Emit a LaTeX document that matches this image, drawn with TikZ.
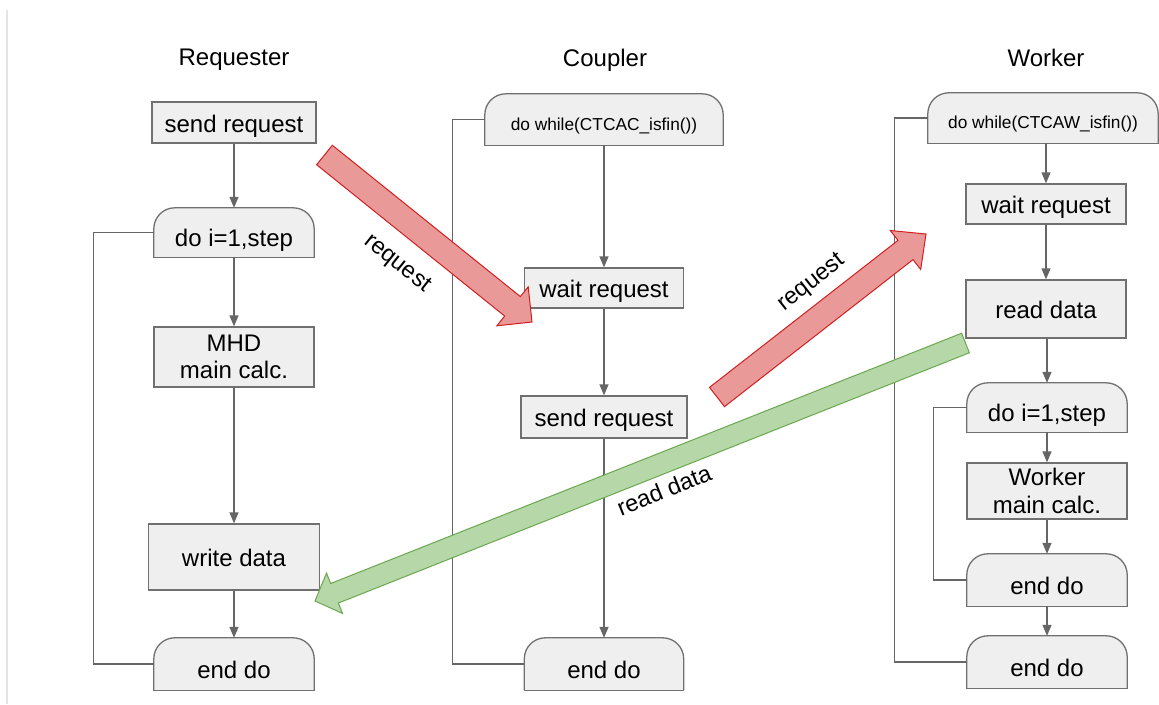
\documentclass[tikz,border=0pt]{standalone}
\usepackage{fontspec}
\setmainfont{Liberation Sans}
\usetikzlibrary{arrows.meta,calc,backgrounds}

\definecolor{boxfill}{HTML}{EFEFEF}
\definecolor{boxline}{HTML}{707070}
\definecolor{flowline}{HTML}{666666}
\definecolor{reqfill}{HTML}{EA9999}
\definecolor{reqline}{HTML}{D01F1F}
\definecolor{datafill}{HTML}{B6D7A8}
\definecolor{dataline}{HTML}{6AA84F}
\definecolor{frameline}{HTML}{E4E4E4}

\tikzset{
  every node/.style={font=\fontsize{24}{27.5}\selectfont, text=black},
  sz/.style 2 args={minimum width=#1pt, minimum height=#2pt},
  procbox/.style={draw=boxline, fill=boxfill, line width=1.3pt, inner sep=0pt, align=center},
  oneline/.style={text height=24pt, text depth=5pt},
  loopbox/.style={inner sep=0pt, text height=33pt, text depth=5pt},
  whilebox/.style={inner sep=0pt, font=\fontsize{17.3}{20}\selectfont, text height=26pt, text depth=5pt},
  flow/.style={draw=flowline, line width=1.3pt, -{Triangle[length=11pt,width=9pt]}},
  loopline/.style={draw=flowline, line width=1.3pt},
  reqarrow/.style={fill=reqfill, draw=reqline, line width=1pt, line join=miter},
  dataarrow/.style={fill=datafill, draw=dataline, line width=1pt, line join=miter},
  tag/.style={font=\fontsize{23.5}{27}\selectfont}
}

% rounded-top outline of a loop node (drawn behind its text)
\newcommand\loopshape[1]{%
  \fill[boxfill, rounded corners=21pt] (#1.south west) -- (#1.north west) -- (#1.north east) -- (#1.south east);
  \draw[boxline, line width=1.3pt, rounded corners=21pt] (#1.south west) -- (#1.north west) -- (#1.north east) -- (#1.south east);
  \draw[boxline, line width=1.3pt, line cap=rect] (#1.south west) -- (#1.south east);
}

% broad block arrow: style, tail, tip, shaft half width, head half width, head length
\newcommand\fatarrow[6]{%
  \coordinate (neck) at ($(#3)!#6!(#2)$);
  \draw[#1] ($(#2)!#4!90:(#3)$) -- ($(neck)!#4!90:(#3)$) -- ($(neck)!#5!90:(#3)$) -- (#3)
    -- ($(neck)!#5!-90:(#3)$) -- ($(neck)!#4!-90:(#3)$) -- ($(#2)!#4!-90:(#3)$) -- cycle;
}

\begin{document}
\begin{tikzpicture}[x=1pt, y=-1pt]
\useasboundingbox (0,0) rectangle (1159,704);
\draw[frameline, line width=1.5pt] (7,10) -- (7,704);

% column titles
\node (tReq) at (234,60) {Requester};
\node (tCou) at (605,60) {Coupler};
\node (tWor) at (1046,58) {Worker};

% Requester
\node[procbox, oneline, sz={164}{41}] (sendR) at (234,122.5) {send request};
\node[loopbox, sz={160}{49}] (doR) at (234,232.5) {do i=1,step};
\node[procbox, sz={160}{60}] (mhd) at (234,357) {MHD\\main calc.};
\node[procbox, oneline, sz={171}{66}] (writeR) at (234,557) {write data};
\node[loopbox, sz={160}{52}] (endR) at (234,664) {end do};

% Coupler
\node[whilebox, sz={238}{51}] (doC) at (604,119.5) {do while(CTCAC\_isfin())};
\node[procbox, oneline, sz={159}{40}] (waitC) at (604,288) {wait request};
\node[procbox, oneline, sz={166}{42}] (sendC) at (604,417) {send request};
\node[loopbox, sz={159}{52}] (endC) at (604,664) {end do};

% Worker
\node[whilebox, sz={230}{50}] (doW) at (1043,118) {do while(CTCAW\_isfin())};
\node[procbox, oneline, sz={160}{40}] (waitW) at (1046,204) {wait request};
\node[procbox, oneline, sz={160}{58}] (readW) at (1046,309) {read data};
\node[loopbox, sz={160}{49}] (doiW) at (1047,407.5) {do i=1,step};
\node[procbox, sz={160}{56}] (calcW) at (1047,491) {Worker\\main calc.};
\node[loopbox, sz={160}{52}] (endW1) at (1047,580) {end do};
\node[loopbox, sz={160}{52}] (endW2) at (1047,662) {end do};

\begin{scope}[on background layer]
  \loopshape{doR}
  \loopshape{endR}
  \loopshape{doC}
  \loopshape{endC}
  \loopshape{doW}
  \loopshape{doiW}
  \loopshape{endW1}
  \loopshape{endW2}
\end{scope}

% flow connectors
\draw[flow] (sendR.south) -- (doR.north);
\draw[flow] (doR.south) -- (mhd.north);
\draw[flow] (mhd.south) -- (writeR.north);
\draw[flow] (writeR.south) -- (endR.north);
\draw[loopline] (doR.west) -- ++(-60,0) |- (endR.west);

\draw[flow] (doC.south) -- (waitC.north);
\draw[flow] (waitC.south) -- (sendC.north);
\draw[flow] (sendC.south) -- (endC.north);
\draw[loopline] (doC.west) -- ++(-32,0) |- (endC.west);

\draw[flow] (doW.south -| waitW.north) -- (waitW.north);
\draw[flow] (waitW.south) -- (readW.north);
\draw[flow] (readW.south -| doiW.north) -- (doiW.north);
\draw[flow] (doiW.south) -- (calcW.north);
\draw[flow] (calcW.south) -- (endW1.north);
\draw[flow] (endW1.south) -- (endW2.north);
\draw[loopline] (doW.west) -- ++(-33,0) |- (endW2.west);
\draw[loopline] (doiW.west) -- ++(-33,0) |- (endW1.west);

% messages between the programs
\coordinate (req1tail) at (324.5,155);
\coordinate (req1tip) at (532,322);
\coordinate (req2tail) at (717,397);
\coordinate (req2tip) at (926,234);
\coordinate (datatail) at (965.5,343);
\coordinate (datatip) at (315,601);
\fatarrow{reqarrow}{req1tail}{req1tip}{12.5pt}{25pt}{25pt}
\fatarrow{reqarrow}{req2tail}{req2tip}{12.2pt}{24.7pt}{26pt}
\fatarrow{dataarrow}{datatail}{datatip}{10.5pt}{21.7pt}{21pt}

\node[tag, rotate=-38.5] (lblreq1) at (397,264) {request};
\node[tag, rotate=38] (lblreq2) at (812,283) {request};
\node[tag, rotate=22] (lbldata) at (664,490) {read data};
\end{tikzpicture}
\end{document}
